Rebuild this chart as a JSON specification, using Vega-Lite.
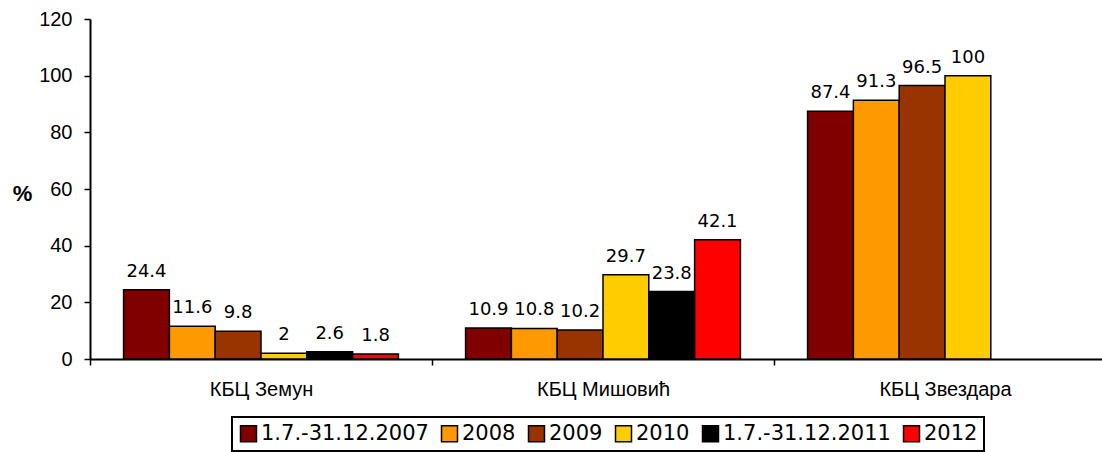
{
  "$schema": "https://vega.github.io/schema/vega-lite/v6.json",
  "width": 1012,
  "height": 340,
  "autosize": {"type": "none"},
  "padding": {"left": 90, "top": 19, "right": 0, "bottom": 93},
  "background": "white",
  "config": {"view": {"stroke": null}, "font": "DejaVu Sans"},
  "data": {
    "values": [
      {"site": "КБЦ Земун", "period": "1.7.-31.12.2007", "value": 24.4},
      {"site": "КБЦ Земун", "period": "2008", "value": 11.6},
      {"site": "КБЦ Земун", "period": "2009", "value": 9.8},
      {"site": "КБЦ Земун", "period": "2010", "value": 2},
      {"site": "КБЦ Земун", "period": "1.7.-31.12.2011", "value": 2.6},
      {"site": "КБЦ Земун", "period": "2012", "value": 1.8},
      {"site": "КБЦ Мишовић", "period": "1.7.-31.12.2007", "value": 10.9},
      {"site": "КБЦ Мишовић", "period": "2008", "value": 10.8},
      {"site": "КБЦ Мишовић", "period": "2009", "value": 10.2},
      {"site": "КБЦ Мишовић", "period": "2010", "value": 29.7},
      {"site": "КБЦ Мишовић", "period": "1.7.-31.12.2011", "value": 23.8},
      {"site": "КБЦ Мишовић", "period": "2012", "value": 42.1},
      {"site": "КБЦ Звездара", "period": "1.7.-31.12.2007", "value": 87.4},
      {"site": "КБЦ Звездара", "period": "2008", "value": 91.3},
      {"site": "КБЦ Звездара", "period": "2009", "value": 96.5},
      {"site": "КБЦ Звездара", "period": "2010", "value": 100}
    ]
  },
  "encoding": {
    "x": {
      "field": "site",
      "type": "nominal",
      "sort": ["КБЦ Земун", "КБЦ Мишовић", "КБЦ Звездара"],
      "scale": {"range": [0, 1026], "paddingInner": 0, "paddingOuter": 0},
      "axis": {
        "title": null,
        "labelAngle": 0,
        "tickBand": "extent",
        "tickSize": 6,
        "tickColor": "black",
        "tickWidth": 1.5,
        "domainColor": "black",
        "domainWidth": 2,
        "labelFont": "Liberation Sans",
        "labelFontSize": 20,
        "labelPadding": 14,
        "labelColor": "black",
        "labelLimit": 300,
        "grid": false
      }
    },
    "xOffset": {
      "field": "period",
      "type": "nominal",
      "scale": {
        "domain": ["1.7.-31.12.2007", "2008", "2009", "2010", "1.7.-31.12.2011", "2012"],
        "paddingInner": 0,
        "paddingOuter": 0.733
      }
    },
    "y": {
      "field": "value",
      "type": "quantitative",
      "scale": {"domain": [0, 120], "nice": false},
      "axis": {
        "values": [0, 20, 40, 60, 80, 100, 120],
        "grid": false,
        "tickSize": 6,
        "tickColor": "black",
        "tickWidth": 1.5,
        "domainColor": "black",
        "domainWidth": 2,
        "labelFont": "Liberation Sans",
        "labelFontSize": 20,
        "labelPadding": 12,
        "labelColor": "black",
        "title": "%",
        "titleFont": "Liberation Sans",
        "titleAngle": 0,
        "titleFontWeight": "bold",
        "titleFontSize": 22,
        "titleColor": "black",
        "titleX": -68,
        "titleY": 174,
        "titleAlign": "center",
        "titleBaseline": "middle"
      }
    }
  },
  "layer": [
    {
      "mark": {"type": "bar", "stroke": "black", "strokeWidth": 1.5},
      "encoding": {
        "color": {
          "field": "period",
          "type": "nominal",
          "scale": {
            "domain": ["1.7.-31.12.2007", "2008", "2009", "2010", "1.7.-31.12.2011", "2012"],
            "range": ["#800000", "#FF9900", "#993300", "#FFCC00", "#000000", "#FF0000"]
          },
          "legend": {
            "orient": "none",
            "legendX": 142,
            "legendY": 398,
            "direction": "horizontal",
            "title": null,
            "strokeColor": "black",
            "padding": 6,
            "symbolType": "square",
            "symbolSize": 256,
            "symbolStrokeColor": "black",
            "symbolStrokeWidth": 1.5,
            "symbolOpacity": 1,
            "labelFontSize": 21,
            "labelOffset": 2,
            "labelColor": "black",
            "labelLimit": 400,
            "columnPadding": 9,
            "encode": {"legend": {"update": {"strokeWidth": {"value": 2}}}}
          }
        }
      }
    },
    {
      "mark": {"type": "text", "dy": -13, "baseline": "alphabetic", "fontSize": 18, "color": "black"},
      "encoding": {
        "text": {"field": "value", "type": "quantitative", "format": "~g"}
      }
    }
  ]
}
